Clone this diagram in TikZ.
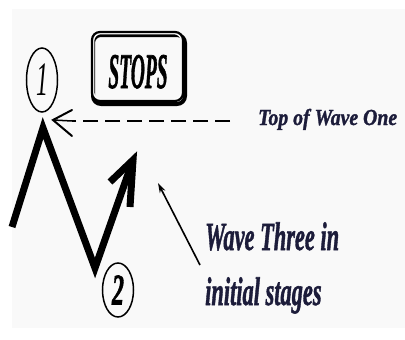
\documentclass[tikz,border=0pt]{standalone}
\usepackage{fontspec}
\setmainfont{Liberation Serif}
\newfontfamily\heavyfont[BoldItalicFeatures={FakeBold=1.5}]{Liberation Serif}
\usetikzlibrary{arrows.meta,shapes.geometric}
\definecolor{navy}{HTML}{1C1C3A}
\definecolor{panel}{HTML}{F9F9F9}
\begin{document}
\begin{tikzpicture}[x=1pt,y=-1pt,
  wavestroke/.style={line width=7pt, line join=miter, line cap=butt},
  numring/.style={ellipse, draw, line width=1.5pt, inner sep=0pt},
  lbl/.style={anchor=base west, inner sep=0pt}]
\useasboundingbox (0,0) rectangle (405,340);
\fill[white] (0,0) rectangle (405,340);
\fill[panel] (12,9) rectangle (405,328);
% numbered circles
\node[numring, minimum width=31pt, minimum height=64pt] (c1) at (42,80)
  {\fontsize{48}{48}\selectfont\itshape\scalebox{0.5}[1]{1}};
\node[numring, minimum width=31pt, minimum height=54pt] (c2) at (118,290)
  {\fontsize{44}{44}\selectfont\heavyfont\bfseries\itshape\scalebox{0.55}[1]{2}};
% zigzag
\coordinate (start) at (12,227);
\coordinate (peak) at (43,128);
\coordinate (low) at (95,268);
\coordinate (tip) at (133,160);
\coordinate (barbA) at (110,182);
\coordinate (barbB) at (130,207);
\draw[wavestroke] (start) -- (peak) -- (low) -- (tip);
\draw[wavestroke] (barbA) -- (tip) -- (barbB);
% STOPS box
\draw[line width=4pt, rounded corners=8pt] (93,35) rectangle (185,104);
\draw[line width=2.5pt, rounded corners=8pt, white] (93,33) rectangle (182,100);
\draw[line width=2.2pt, rounded corners=8pt] (92,32) rectangle (183,101);
\node[inner sep=0pt, anchor=base] (stops) at (138,88)
  {\fontsize{50}{50}\selectfont\heavyfont\bfseries\itshape\scalebox{0.39}[1]{STOPS}};
% Top of Wave One
\node[lbl] (top) at (258,125)
  {\fontsize{23}{23}\selectfont\heavyfont\bfseries\itshape\color{navy}\scalebox{0.86}[1]{Top of Wave One}};
\coordinate (dashend) at (230,121);
\coordinate (tipone) at (53,120);
\draw[line width=2.5pt, dash pattern=on 15pt off 7pt] (dashend) -- (72,121);
\draw[line width=2pt, line cap=round] (72,110) -- (tipone) -- (72,136);
\draw[line width=1.5pt] (tipone) -- (72,121);
% Wave three label
\node[lbl] (w3) at (205,250)
  {\fontsize{40}{40}\selectfont\heavyfont\bfseries\itshape\color{navy}\scalebox{0.56}[1]{Wave Three in}};
\node[lbl] (w3b) at (205,305)
  {\fontsize{40}{40}\selectfont\heavyfont\bfseries\itshape\color{navy}\scalebox{0.56}[1]{initial stages}};
\coordinate (ptr) at (200,265);
\coordinate (ptrtip) at (158,183);
\draw[line width=1.6pt, -{Stealth[length=10pt,width=6pt]}] (ptr) -- (ptrtip);
\end{tikzpicture}
\end{document}
